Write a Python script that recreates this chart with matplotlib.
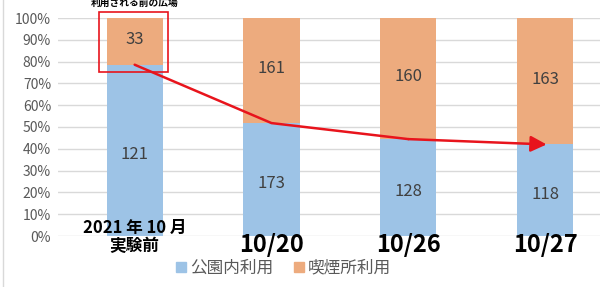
import matplotlib
matplotlib.use("Agg")
import matplotlib.pyplot as plt
from matplotlib.lines import Line2D
from matplotlib.patches import Rectangle
import numpy as np

plt.rcParams["font.family"] = ["Noto Sans CJK JP", "DejaVu Sans"]

categories = ["2021 年 10 月\n実験前", "10/20", "10/26", "10/27"]
park_use = [121, 173, 128, 118]      # 公園内利用
smoking_use = [33, 161, 160, 163]    # 喫煙所利用
series_names = ["公園内利用", "喫煙所利用"]
yticks = np.arange(0, 101, 10)

blue = "#9DC3E6"
orange = "#EDAB7E"
red = "#E8141C"

park = np.array(park_use, dtype=float)
smoke = np.array(smoking_use, dtype=float)
total = park + smoke
park_pct = park / total * 100
smoke_pct = smoke / total * 100
x = np.arange(len(categories))

fig = plt.figure(figsize=(6.0, 2.87), dpi=100)
ax = fig.add_axes([58 / 600, 1 - 236 / 287, 1 - 58 / 600, 218 / 287])

w = 0.41
ax.bar(x, park_pct, w, color=blue, zorder=2)
ax.bar(x, smoke_pct, w, bottom=park_pct, color=orange, zorder=2)

for i in range(len(x)):
    ax.text(x[i], park_pct[i] / 2 - 2, str(park_use[i]), ha="center", va="center",
            fontsize=12, color="#404040", zorder=3)
    ax.text(x[i], park_pct[i] + smoke_pct[i] / 2 + 1, str(smoking_use[i]), ha="center",
            va="center", fontsize=12, color="#404040", zorder=3)

ax.set_xlim(-0.56, 3.40)
ax.set_ylim(0, 100)
ax.set_yticks(yticks)
ax.set_yticklabels([f"{v}%" for v in yticks], fontsize=10, color="#595959")
ax.yaxis.grid(True, color="#D9D9D9", linewidth=1, zorder=0)
ax.set_xticks([])
for s in ax.spines.values():
    s.set_visible(False)
ax.tick_params(axis="y", length=0, pad=5)

# category labels under the bars (the first one is two lines and sits on the bar)
first_lines = categories[0].split("\n")
ax.text(x[0], 3.6, first_lines[0], ha="center", va="center", fontsize=12,
        fontweight="bold", color="black", zorder=6, clip_on=False)
ax.text(x[0], -4.6, first_lines[1], ha="center", va="center", fontsize=12,
        fontweight="bold", color="black", zorder=6, clip_on=False)
for i in range(1, len(x)):
    ax.text(x[i], -7.4, categories[i], ha="center", va="baseline", fontsize=17,
            fontweight="bold", color="black", clip_on=False)

# red trend arrow following the blue share
ax.plot(x[:3], park_pct[:3], color=red, linewidth=1.8, zorder=4,
        solid_capstyle="round")
ax.annotate("", xy=(x[3] + 0.01, park_pct[3]), xytext=(x[2], park_pct[2]),
            arrowprops=dict(arrowstyle="-|>", color=red, lw=1.8,
                            mutation_scale=24, shrinkA=0, shrinkB=0),
            zorder=4)

# red box around the first bar top
ax.add_patch(Rectangle((x[0] - 0.26, park_pct[0] - 3.5), 0.505, 100 - park_pct[0] + 6.2,
                       fill=False, edgecolor=red, linewidth=1.2, clip_on=False, zorder=5))
ax.text(x[0], 104.5, "利用される前の広場", ha="center", va="bottom", fontsize=7,
        fontweight="bold", color="black", clip_on=False)

handles = [Line2D([0], [0], marker="s", linestyle="none", markersize=7,
                  markerfacecolor=c, markeredgecolor=c) for c in (blue, orange)]
fig.legend(handles, series_names, loc="center", bbox_to_anchor=(282 / 600, 1 - 268 / 287),
           ncol=2, frameon=False, fontsize=12, handletextpad=0.05, columnspacing=1.0,
           handlelength=1.0, labelcolor="#595959")

fig.add_artist(Line2D([3 / 600, 3 / 600], [0, 1], color="#D9D9D9", linewidth=1))

fig.savefig("out.png", dpi=100)
